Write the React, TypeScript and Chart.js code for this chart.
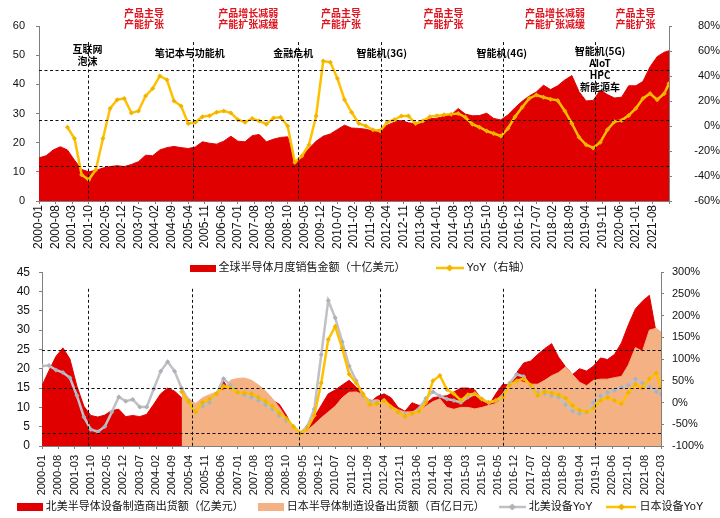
import { useEffect, useRef } from 'react';
import { Chart, registerables } from 'chart.js';

Chart.register(...registerables);

const FONT = "'Liberation Sans', 'Noto Sans CJK SC', sans-serif";
const CJK = "'Noto Sans CJK SC', 'Liberation Sans', sans-serif";

const RED = '#e00000';
const ORANGE = '#f4b183';
const YELLOW = '#ffc000';
const YELLOW_DOT = '#f0b400';
const GREY = '#c0c0c6';
const GREY_DOT = '#b0b0b8';
const NOTE_RED = '#e0141e';
const AXIS = '#7f7f7f';
const TEXT = '#111';

// months counted from 2000-01, sampled every quarter, last point 2022-03
const sampleMonths = [...Array.from({ length: 89 }, (_, i) => i * 3), 266];

// ---- top chart: global semiconductor monthly sales ----
const salesBn = [
  14.8, 15.5, 17.5, 18.6, 17.5, 14.0, 10.8, 10.0, 10.5, 11.3,
  11.8, 12.1, 11.8, 12.5, 13.5, 15.7, 15.5, 17.5, 18.3, 18.7,
  18.3, 18.0, 18.5, 20.3, 19.8, 19.5, 20.5, 22.2, 20.5, 20.3,
  22.4, 22.8, 20.3, 21.2, 21.8, 22.0, 13.2, 15.5, 18.0, 20.5,
  22.2, 23.0, 24.5, 26.0, 25.0, 24.9, 24.6, 24.0, 24.5, 26.0,
  27.0, 27.6, 26.8, 26.5, 27.8, 28.2, 28.4, 29.0, 29.5, 31.7,
  29.8, 29.2, 29.3, 30.1, 28.3, 27.8, 29.5, 32.0, 34.2, 36.0,
  37.4, 39.7, 38.2, 39.5, 41.5, 43.0, 37.5, 34.3, 34.5, 38.0,
  36.5, 35.3, 35.6, 39.5, 39.5, 41.0, 46.0, 49.5, 51.0, 51.5,
];
const salesYoY = [
  null, null, null, null, -1, -10, -39, -43, -35, -10,
  14, 21, 22, 10.5, 12, 24, 30, 40, 37, 20,
  16, 2, 3, 7.5, 8.2, 11, 12, 10.5, 5, 3,
  6, 4, 1.5, 6.5, 7, 0, -29, -24, -15, 8,
  52, 51, 38, 21, 11, 2, 0, -3, -4, 3,
  5, 8, 8, 2, 4, 7.5, 8.2, 9, 9.5, 10,
  7, 1.5, -1, -4, -6, -8, -2, 7.5, 15, 22,
  24.8, 23, 21.5, 20.5, 12, 2, -9, -15, -17.5, -13,
  -3, 3.5, 4.5, 8.5, 14, 22, 26, 21, 26, 34,
];

// ---- bottom chart: equipment billings ----
const naBillings = [
  15.6, 19.5, 23.2, 25.4, 22.5, 15.5, 10.3, 7.9, 7.5, 8.0,
  9.2, 9.5, 7.6, 7.9, 7.6, 8.2, 10.8, 13.5, 15.0, 14.2,
  12.5, 10.5, 10.0, 11.5, 12.0, 13.5, 16.8, 14.0, 14.5, 15.5,
  16.9, 14.5, 13.5, 11.8, 10.8, 8.0, 4.5, 3.0, 4.5, 7.5,
  10.5, 13.5, 14.5, 15.8, 17.0, 15.2, 13.5, 11.3, 12.8, 13.5,
  12.5, 10.0, 9.0, 11.2, 10.5, 11.0, 12.5, 12.8, 13.0, 14.0,
  15.0, 15.0, 14.5, 12.0, 10.5, 13.5, 16.0, 15.8, 19.0, 21.5,
  22.0, 23.7, 25.2, 26.5, 23.0, 20.5, 18.5, 20.0, 19.4, 20.7,
  22.8, 22.4, 23.7, 26.7, 31.4, 35.5, 37.5, 39.0, 29.0, 28.0,
];
const jpBillings = [
  null, null, null, null, null, null, null, null, null, null,
  null, null, null, null, null, null, null, null, null, null,
  14.5, 12.3, 11.0, 12.5, 13.3, 14.0, 14.5, 17.0, 17.5, 17.6,
  17.0, 15.8, 14.3, 12.3, 10.0, 7.2, 4.6, 3.2, 4.0, 5.6,
  7.3, 8.8, 10.3, 12.5, 13.9, 14.0, 13.3, 11.8, 12.0, 11.5,
  10.4, 9.4, 8.8, 8.9, 9.2, 10.3, 11.5, 12.2, 10.0, 9.5,
  10.0, 10.0, 9.6, 10.0, 10.5, 11.0, 12.5, 15.6, 17.0, 16.5,
  16.0, 16.0, 17.0, 18.2, 19.0, 20.5, 18.5, 16.5, 15.6, 17.0,
  17.3, 17.3, 17.7, 18.0, 21.0, 25.5, 24.5, 30.0, 30.5, 29.5,
];
const naYoY = [
  84, 85, 75, 69, 57, 16, -33, -62, -67, -55,
  -22, 13, 3, 7, -10, -10, 31, 72, 94, 72,
  33, 5, -20, -8, 0, 20, 55, 40, 23, 18,
  12, 5, -5, -15, -30, -42, -55, -70, -55, -15,
  110, 235, 195, 140, 84, 50, 16, 3, 0, 5,
  -10, -22, -28, -25, -14, 10, 25, 15, 8, 5,
  0, 12, 20, 8, 0, 4, 16, 45, 65, 60,
  35, 23, 20, 16, 12, -5, -20, -25, -22, 0,
  15, 23, 28, 35, 40, 54, 45, 35, 25, 20,
];
const jpYoY = [
  null, null, null, null, null, null, null, null, null, null,
  null, null, null, null, null, null, null, null, null, null,
  25, 2, -22, 0, 8, 20, 38, 33, 23, 22,
  20, 12, 3, -8, -25, -37, -55, -71, -60, -30,
  45, 145, 175, 125, 65, 45, 20, -5, -3, 5,
  -10, -22, -32, -25, -20, 0, 50, 62, 30, 20,
  5, 18, 20, 8, 0, 5, 12, 40, 50, 55,
  40, 16, 25, 22, 18, 10, -7, -18, -22, -12,
  5, 12, 5, -3, 23, 42, 33, 55, 68, 35,
];

// ---- guides and notes ----
const topHLines = [45, 27.8, 12];
const topVLines = [20.7, 65, 109.4, 144.4, 195.9, 234.8];
const topVTop = 54.5;
const phaseNotes = [
  { m: 44.3, lines: ['产品主导', '产能扩张'] },
  { m: 88.3, lines: ['产品增长减弱', '产能扩张减缓'] },
  { m: 127.5, lines: ['产品主导', '产能扩张'] },
  { m: 170.8, lines: ['产品主导', '产能扩张'] },
  { m: 217.9, lines: ['产品增长减弱', '产能扩张减缓'] },
  { m: 251.9, lines: ['产品主导', '产能扩张'] },
];
const eventNotes = [
  { m: 20.5, v: 52.1, lines: ['互联网', '泡沫'] },
  { m: 63.6, v: 50.7, lines: ['笔记本与功能机'] },
  { m: 107.3, v: 50.7, lines: ['金融危机'] },
  { m: 144.7, v: 50.7, lines: ['智能机(3G)'] },
  { m: 195.4, v: 50.7, lines: ['智能机(4G)'] },
  { m: 236.9, v: 51.2, lines: ['智能机(5G)', 'AIoT', 'HPC', '新能源车'] },
];
const bottomHLines = [24.8, 15.0, 3.3];
const bottomVLines = [19.8, 64.6, 110.6, 145.2, 198.2, 237.6];
const bottomVTop = 40.7;

type Note = { m: number; v: number; lines: string[]; color: string; step: number };

const monthLabel = (v: number) =>
  `${2000 + Math.floor(v / 12)}-${String((v % 12) + 1).padStart(2, '0')}`;

const pts = (vals: (number | null)[]) => sampleMonths.map((m, i) => ({ x: m, y: vals[i] }));

function boxIcon(color: string, w: number, h: number) {
  const c = document.createElement('canvas');
  c.width = w;
  c.height = h;
  const g = c.getContext('2d')!;
  g.fillStyle = color;
  g.fillRect(0, 0, w, h);
  return c;
}

function lineIcon(color: string, dot: string, w: number) {
  const c = document.createElement('canvas');
  c.width = w;
  c.height = 8;
  const g = c.getContext('2d')!;
  g.strokeStyle = color;
  g.lineWidth = 2.5;
  g.beginPath();
  g.moveTo(0, 4);
  g.lineTo(w, 4);
  g.stroke();
  g.fillStyle = dot;
  g.beginPath();
  g.moveTo(w / 2, 0.5);
  g.lineTo(w / 2 + 3.5, 4);
  g.lineTo(w / 2, 7.5);
  g.lineTo(w / 2 - 3.5, 4);
  g.closePath();
  g.fill();
  return c;
}

function guides(hLines: number[], vLines: number[], vTop: number, notes: Note[]) {
  return {
    id: 'guides',
    afterDatasetsDraw(chart: Chart) {
      const { ctx, chartArea: a } = chart;
      const sx = chart.scales.x;
      const sy = chart.scales.y;
      ctx.save();
      ctx.strokeStyle = '#111';
      ctx.lineWidth = 1;
      ctx.setLineDash([3, 2.5]);
      hLines.forEach((v) => {
        const p = Math.round(sy.getPixelForValue(v)) + 0.5;
        ctx.beginPath();
        ctx.moveTo(a.left, p);
        ctx.lineTo(a.right, p);
        ctx.stroke();
      });
      vLines.forEach((m) => {
        const p = Math.round(sx.getPixelForValue(m)) + 0.5;
        ctx.beginPath();
        ctx.moveTo(p, sy.getPixelForValue(vTop));
        ctx.lineTo(p, a.bottom);
        ctx.stroke();
      });
      ctx.setLineDash([]);
      ctx.textAlign = 'center';
      ctx.textBaseline = 'middle';
      ctx.font = `bold 10px ${CJK}`;
      notes.forEach((n) => {
        ctx.fillStyle = n.color;
        const x = sx.getPixelForValue(n.m);
        const y0 = sy.getPixelForValue(n.v);
        n.lines.forEach((t, i) => ctx.fillText(t, x, y0 + i * n.step));
      });
      ctx.restore();
    },
  };
}

// one centred legend row drawn under the axis labels
function legendRow(icons: HTMLCanvasElement[], y: number, gap: number) {
  return {
    id: 'legendRow',
    afterDraw(chart: Chart) {
      const { ctx, width } = chart;
      const texts = chart.data.datasets.map((d) => String(d.label));
      ctx.save();
      ctx.font = `11px ${FONT}`;
      ctx.textBaseline = 'middle';
      ctx.textAlign = 'left';
      ctx.fillStyle = TEXT;
      const widths = texts.map((t, i) => icons[i].width + 3 + ctx.measureText(t).width);
      const total = widths.reduce((s, w) => s + w, 0) + gap * (texts.length - 1);
      let x = (width - total) / 2;
      texts.forEach((t, i) => {
        ctx.drawImage(icons[i], x, Math.round(y - icons[i].height / 2));
        ctx.fillText(t, x + icons[i].width + 3, y);
        x += widths[i] + gap;
      });
      ctx.restore();
    },
  };
}

const tickFont = (size: number) => ({ family: FONT, size });
const axisGrid = { drawOnChartArea: false, tickLength: 3, color: AXIS };

export default function App() {
  const topRef = useRef<HTMLCanvasElement>(null);
  const bottomRef = useRef<HTMLCanvasElement>(null);

  useEffect(() => {
    if (!topRef.current || !bottomRef.current) return;
    Chart.defaults.font.family = FONT;
    Chart.defaults.color = TEXT;

    const topNotes: Note[] = [
      ...phaseNotes.map((n) => ({ m: n.m, v: 64.4, lines: n.lines, color: NOTE_RED, step: 11 })),
      ...eventNotes.map((n) => ({ ...n, color: '#000', step: 11.7 })),
    ];

    const top = new Chart(topRef.current, {
      type: 'line',
      data: {
        datasets: [
          {
            label: '全球半导体月度销售金额（十亿美元）',
            data: pts(salesBn),
            yAxisID: 'y',
            fill: 'origin',
            backgroundColor: RED,
            borderColor: RED,
            borderWidth: 1,
            pointRadius: 0,
            order: 2,
          },
          {
            label: 'YoY（右轴）',
            data: pts(salesYoY),
            yAxisID: 'y1',
            borderColor: YELLOW,
            borderWidth: 2.5,
            pointRadius: 2.5,
            pointStyle: 'rectRot',
            pointBackgroundColor: YELLOW_DOT,
            pointBorderWidth: 0,
            order: 1,
          },
        ],
      },
      options: {
        animation: false,
        responsive: true,
        maintainAspectRatio: false,
        layout: { padding: { top: 26, left: 0, right: 0, bottom: 27 } },
        plugins: {
          tooltip: { enabled: false },
          legend: { display: false },
        },
        scales: {
          x: {
            type: 'linear',
            min: 0,
            max: 266,
            ticks: {
              stepSize: 7,
              autoSkip: false,
              minRotation: 90,
              maxRotation: 90,
              padding: 1,
              font: tickFont(12),
              callback: (v) => (Number(v) <= 259 ? monthLabel(Number(v)) : ''),
            },
            grid: axisGrid,
            border: { color: AXIS },
            afterFit: (s) => {
              s.height = 52;
            },
          },
          y: {
            position: 'left',
            min: 0,
            max: 60,
            ticks: { stepSize: 10, padding: 11, font: tickFont(11) },
            grid: axisGrid,
            border: { color: AXIS },
            afterFit: (s) => {
              s.width = 39;
            },
          },
          y1: {
            position: 'right',
            min: -60,
            max: 80,
            ticks: {
              stepSize: 20,
              padding: 8,
              crossAlign: 'far',
              font: tickFont(11),
              callback: (v) => `${v}%`,
            },
            grid: axisGrid,
            border: { color: AXIS },
            afterFit: (s) => {
              s.width = 51;
            },
          },
        },
      },
      plugins: [
        guides(topHLines, topVLines, topVTop, topNotes),
        legendRow([boxIcon(RED, 26, 7), lineIcon(YELLOW, YELLOW_DOT, 28)], 268, 30),
      ],
    });

    const bottom = new Chart(bottomRef.current, {
      type: 'line',
      data: {
        datasets: [
          {
            label: '北美半导体设备制造商出货额（亿美元）',
            data: pts(naBillings),
            yAxisID: 'y',
            fill: 'origin',
            backgroundColor: RED,
            borderColor: RED,
            borderWidth: 1,
            pointRadius: 0,
            order: 4,
          },
          {
            label: '日本半导体制造设备出货额（百亿日元）',
            data: pts(jpBillings),
            yAxisID: 'y',
            fill: 'origin',
            backgroundColor: ORANGE,
            borderColor: ORANGE,
            borderWidth: 1,
            pointRadius: 0,
            order: 3,
          },
          {
            label: '北美设备YoY',
            data: pts(naYoY),
            yAxisID: 'y1',
            borderColor: GREY,
            borderWidth: 2.5,
            pointRadius: 2.5,
            pointStyle: 'rectRot',
            pointBackgroundColor: GREY_DOT,
            pointBorderWidth: 0,
            order: 2,
          },
          {
            label: '日本设备YoY',
            data: pts(jpYoY),
            yAxisID: 'y1',
            borderColor: YELLOW,
            borderWidth: 2.5,
            pointRadius: 2.5,
            pointStyle: 'rectRot',
            pointBackgroundColor: YELLOW_DOT,
            pointBorderWidth: 0,
            order: 1,
          },
        ],
      },
      options: {
        animation: false,
        responsive: true,
        maintainAspectRatio: false,
        layout: { padding: { top: 14, left: 0, right: 0, bottom: 22 } },
        plugins: {
          tooltip: { enabled: false },
          legend: { display: false },
        },
        scales: {
          x: {
            type: 'linear',
            min: 0,
            max: 266,
            ticks: {
              stepSize: 7,
              autoSkip: false,
              minRotation: 90,
              maxRotation: 90,
              padding: 6,
              font: tickFont(11),
              callback: (v) => monthLabel(Number(v)),
            },
            grid: axisGrid,
            border: { color: AXIS },
            afterFit: (s) => {
              s.height = 50;
            },
          },
          y: {
            position: 'left',
            min: 0,
            max: 45,
            ticks: { stepSize: 5, padding: 9, font: tickFont(12) },
            grid: axisGrid,
            border: { color: AXIS },
            afterFit: (s) => {
              s.width = 42;
            },
          },
          y1: {
            position: 'right',
            min: -100,
            max: 300,
            ticks: { stepSize: 50, padding: 8, font: tickFont(11), callback: (v) => `${v}%` },
            grid: axisGrid,
            border: { color: AXIS },
            afterFit: (s) => {
              s.width = 59;
            },
          },
        },
      },
      plugins: [
        guides(bottomHLines, bottomVLines, bottomVTop, []),
        legendRow(
          [
            boxIcon(RED, 26, 8),
            boxIcon(ORANGE, 26, 8),
            lineIcon(GREY, GREY_DOT, 27),
            lineIcon(YELLOW, YELLOW_DOT, 30),
          ],
          251,
          14,
        ),
      ],
    });

    return () => {
      top.destroy();
      bottom.destroy();
    };
  }, []);

  return (
    <div style={{ position: 'absolute', left: 0, top: 0, width: 720, height: 518, overflow: 'hidden', background: '#fff' }}>
      <div style={{ position: 'absolute', left: 0, top: 0, width: 720, height: 280 }}>
        <canvas ref={topRef} />
      </div>
      <div style={{ position: 'absolute', left: 0, top: 256, width: 720, height: 262 }}>
        <canvas ref={bottomRef} />
      </div>
    </div>
  );
}
